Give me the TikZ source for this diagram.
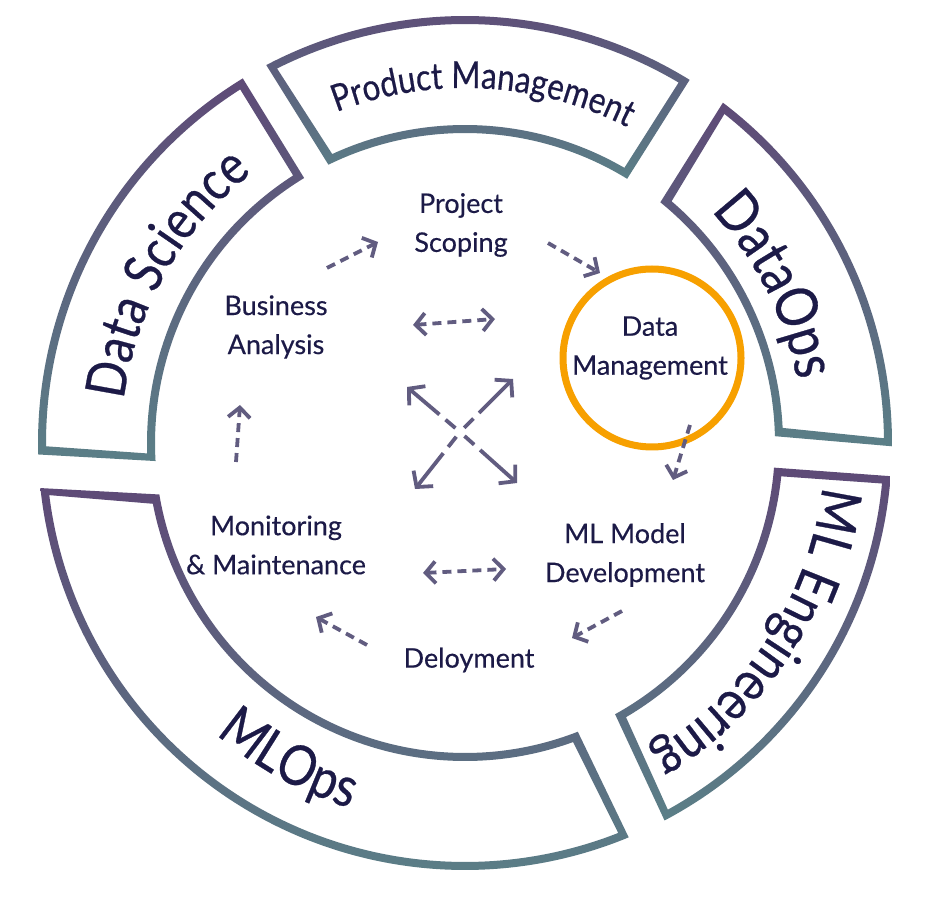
\documentclass[tikz,border=0pt]{standalone}
\usepackage{fontspec}
\setmainfont{Lato}
\newfontfamily\ringfont[FakeStretch=0.85,FakeBold=0.5]{Lato}
\newfontfamily\stagefont[FakeBold=0.35]{Lato}
\usetikzlibrary{arrows.meta,calc,decorations.text}
\definecolor{segtop}{HTML}{5E4A77}
\definecolor{segbot}{HTML}{5B7F87}
\definecolor{inktext}{HTML}{1C1A47}
\definecolor{arrowc}{HTML}{615C80}
\definecolor{ringorange}{HTML}{F7A000}
% outer start, outer end, inner start, inner end (degrees, ccw)
\newcommand\ringseg[4]{%
  \shade[top color=segtop, bottom color=segbot, even odd rule]
   ($(C)+(#1-0.54:427)$) arc[start angle=#1-0.54, end angle=#2+0.54, radius=427]
   -- ($(C)+(#4+0.74:310)$) arc[start angle=#4+0.74, end angle=#3-0.74, radius=310] -- cycle
   ($(C)+(#1+0.55:419)$) arc[start angle=#1+0.55, end angle=#2-0.55, radius=419]
   -- ($(C)+(#4-0.72:318)$) arc[start angle=#4-0.72, end angle=#3+0.72, radius=318] -- cycle;
}
\newcommand\ringlabel[5]{% size, radius, start, end, text
  \path[decorate, decoration={text along path, text align=center, text color=inktext,
     text={|\ringfont\fontsize{#1}{#1}\selectfont|#5}}]
     ($(C)+(#3:#2)$) arc[start angle=#3, end angle=#4, radius=#2];
}
\begin{document}
\begin{tikzpicture}[x=1pt,y=1pt,
  stage/.style={font=\stagefont\fontsize{27}{39}\selectfont, text=inktext, align=center, inner sep=0pt},
  flow/.style={draw=arrowc, line width=3.8pt, dash pattern=on 9pt off 6pt,
     -{Straight Barb[length=10pt,width=22pt]}},
  twoway/.style={draw=arrowc, line width=3.8pt, dash pattern=on 9pt off 6pt,
     {Straight Barb[length=10pt,width=22pt]}-{Straight Barb[length=10pt,width=22pt]}},
  xarm/.style={draw=arrowc, line width=3.8pt, dash pattern=on 13pt off 8pt on 300pt,
     -{Straight Barb[length=11pt,width=25pt]}},
  ringcircle/.style={circle, draw=ringorange, line width=7pt, minimum size=178pt, inner sep=0pt}
]
\useasboundingbox (0,0) rectangle (936,900);
\fill[white] (0,0) rectangle (936,900);
\coordinate (C) at (465,457);

% ring segments
\ringseg{0.1}{52.3}{2.0}{50.2}      % DataOps
\ringseg{58.8}{117.2}{59.2}{115.4}  % Product Management
\ringseg{121.9}{181}{122}{182.6}    % Data Science
\ringseg{186.6}{292}{190.3}{290.6}  % MLOps
\ringseg{298.4}{355}{299.7}{354.7}  % ML Engineering

% ring labels
\ringlabel{37}{355}{137}{37}{Product Management}
\ringlabel{55}{344}{200.5}{100.5}{Data Science}
\ringlabel{58}{338}{77}{-23}{DataOps}
\ringlabel{56}{360}{17}{-83}{ML Engineering}
\ringlabel{56}{383}{191}{291}{MLOps}

% stages
\node[stage] (ps) at (461,675) {Project\\Scoping};
\node[stage] (ba) at (276,573) {Business\\Analysis};
\node[stage] (dm) at (650,552) {Data\\Management};
\node[stage] (mm) at (276,355) {Monitoring\\\& Maintenance};
\node[stage] (md) at (625,345) {ML Model\\Development};
\node[stage] (dp) at (469,240) {Deloyment};
\node[ringcircle] (dmring) at (652,542) {};

% arrow end points
\coordinate (a1s) at (327,632); \coordinate (a1e) at (378,658);
\coordinate (a2s) at (548,657); \coordinate (a2e) at (600,627);
\coordinate (a3s) at (690,475); \coordinate (a3e) at (673,420);
\coordinate (a4s) at (622,289); \coordinate (a4e) at (572,262);
\coordinate (a5s) at (367,255); \coordinate (a5e) at (316,283);
\coordinate (a6s) at (236,438); \coordinate (a6e) at (240,495);
\coordinate (t1) at (413,575); \coordinate (t2) at (495,581);
\coordinate (b1) at (423,327); \coordinate (b2) at (506,331);
\coordinate (xc) at (460,468);
\coordinate (xtl) at (407,513); \coordinate (xtr) at (513,521);
\coordinate (xbl) at (415,411); \coordinate (xbr) at (517,417);
\coordinate (xtls) at ($(xc)!6pt!(xtl)$);
\coordinate (xtrs) at ($(xc)!6pt!(xtr)$);
\coordinate (xbls) at ($(xc)!6pt!(xbl)$);
\coordinate (xbrs) at ($(xc)!6pt!(xbr)$);

\draw[flow] (a1s) -- (a1e);
\draw[flow] (a2s) -- (a2e);
\draw[flow] (a3s) -- (a3e);
\draw[flow] (a4s) -- (a4e);
\draw[flow] (a5s) -- (a5e);
\draw[flow] (a6s) -- (a6e);
\draw[twoway] (t1) -- (t2);
\draw[twoway] (b1) -- (b2);
\draw[xarm] (xtls) -- (xtl);
\draw[xarm] (xtrs) -- (xtr);
\draw[xarm] (xbls) -- (xbl);
\draw[xarm] (xbrs) -- (xbr);
\end{tikzpicture}
\end{document}
